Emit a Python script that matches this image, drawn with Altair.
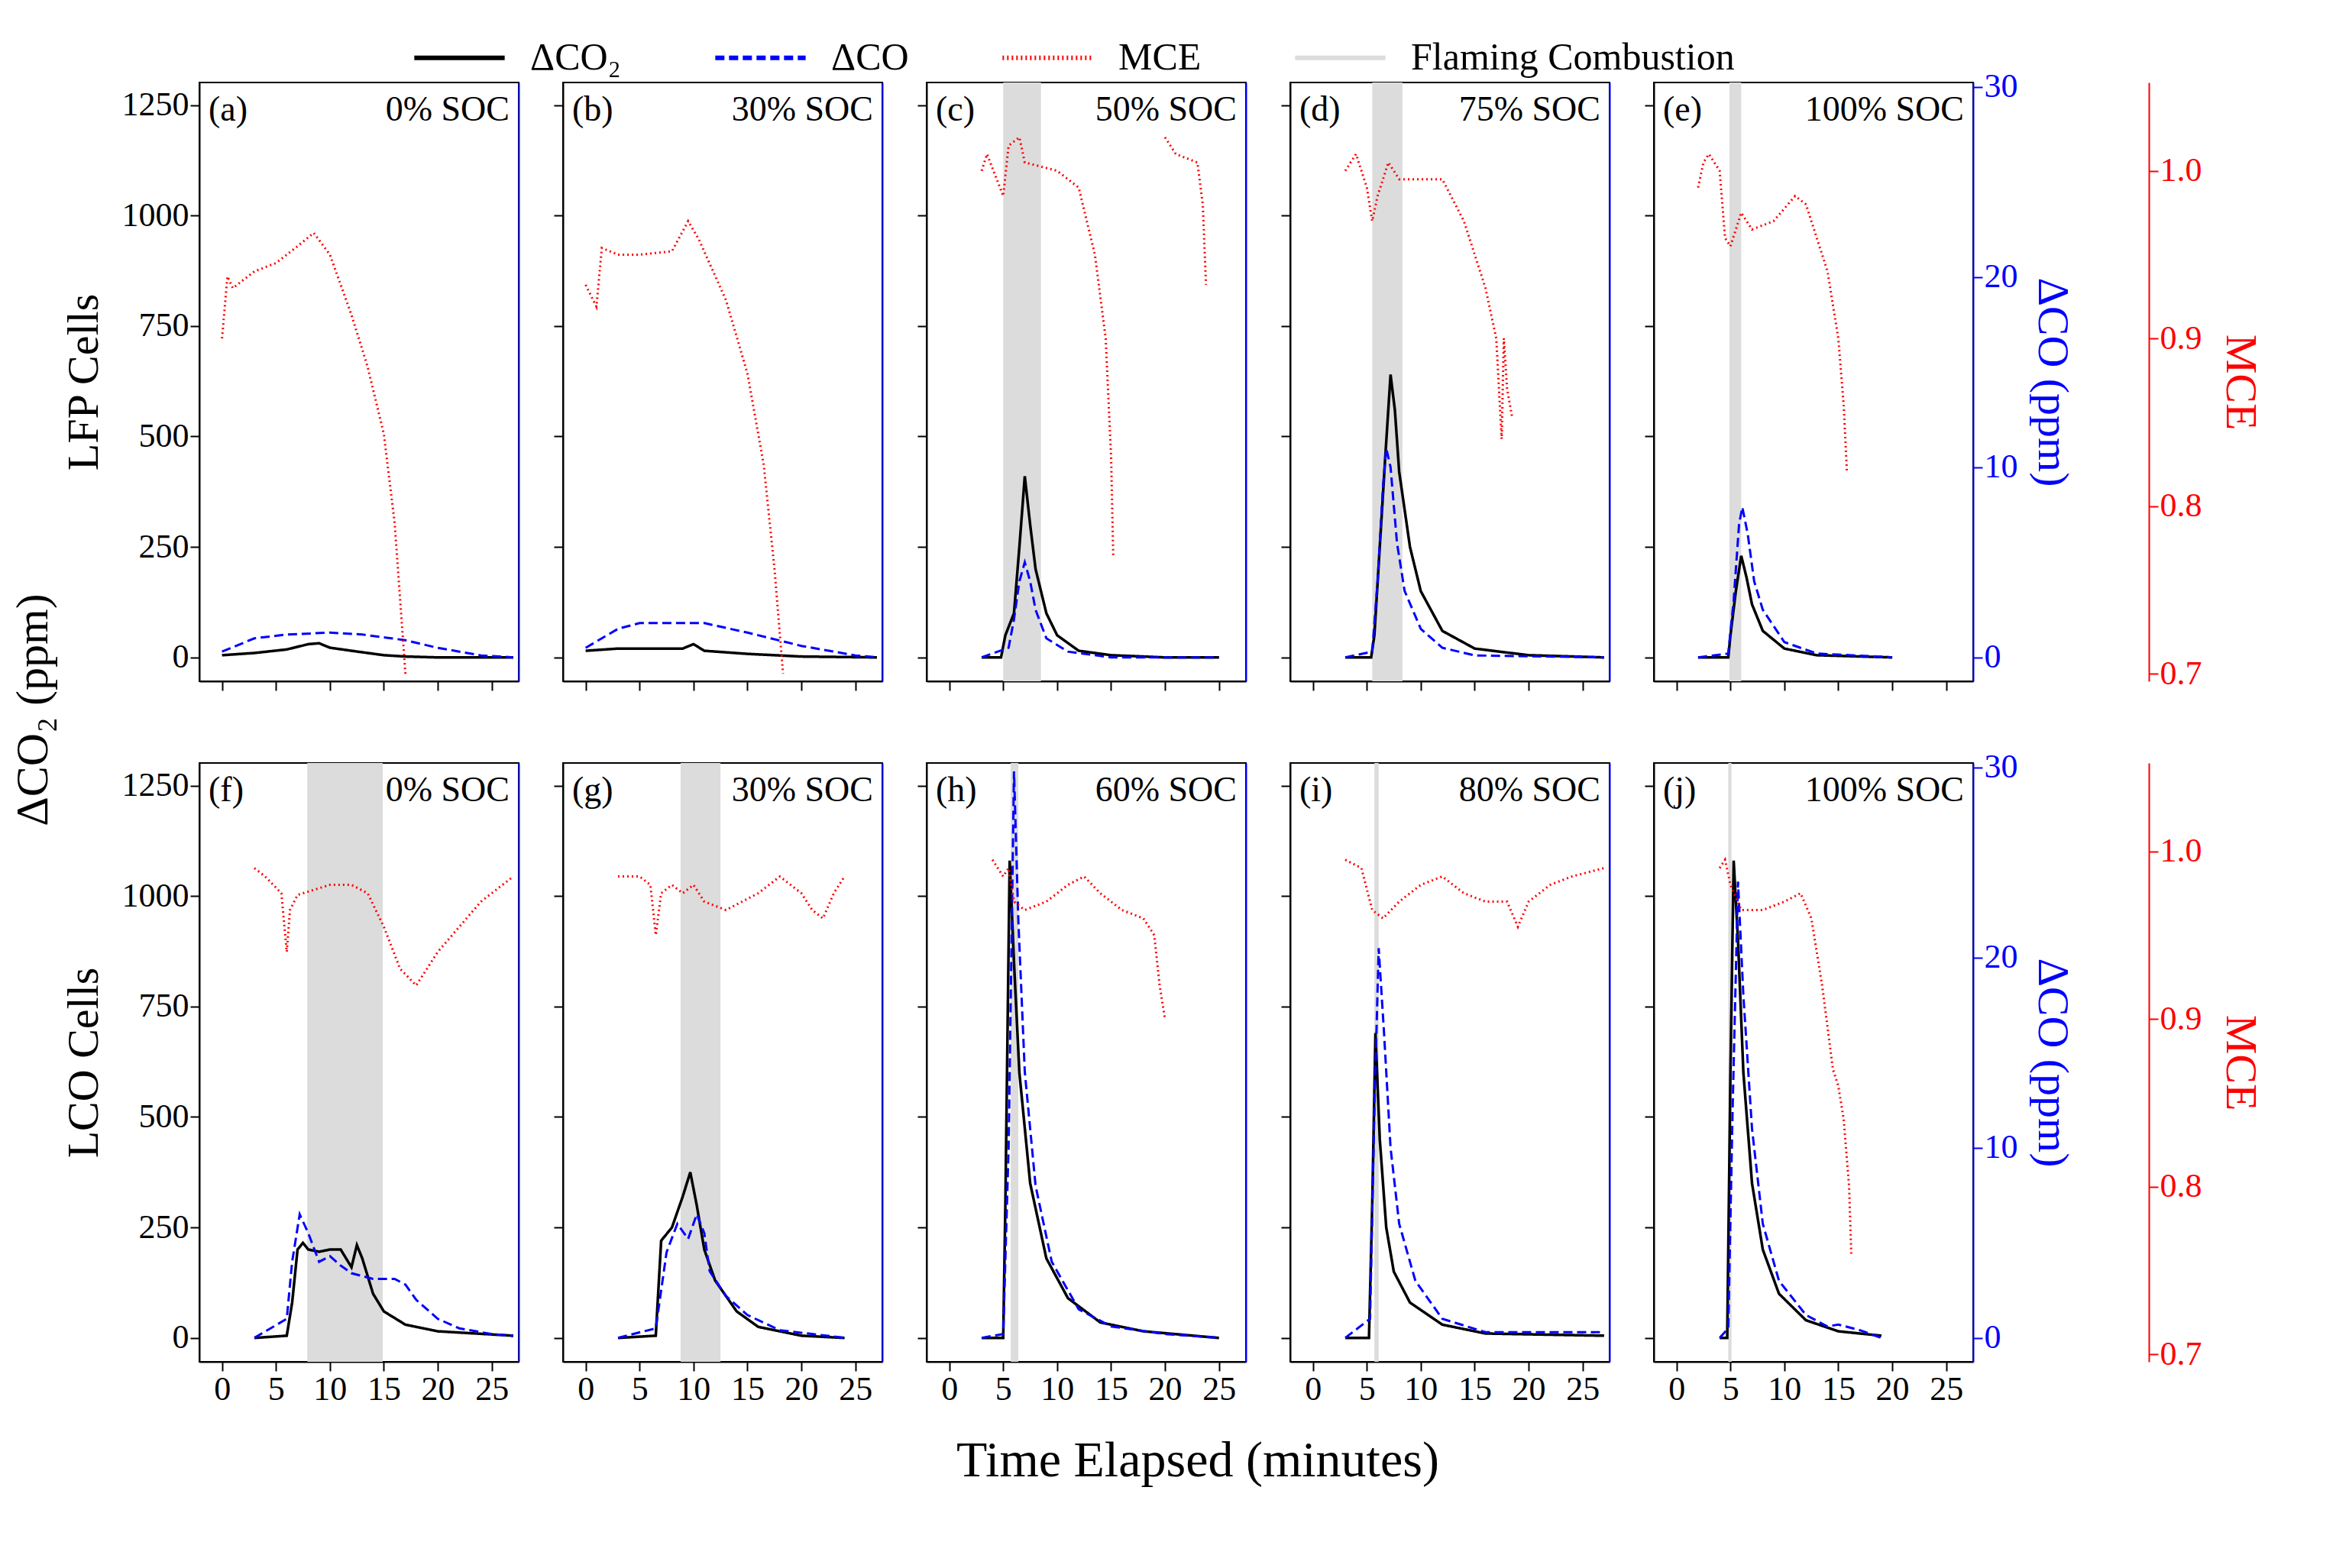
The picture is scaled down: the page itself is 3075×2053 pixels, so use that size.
import pandas as pd
import altair as alt

FONT = "Liberation Serif"
W, H = 418, 784

# (time in minutes, value) pairs
# ---- LFP cells ----
a_co2 = [(0, 5), (3, 10), (6, 18), (8, 30), (9, 32), (10, 22), (12, 15), (15, 5), (17, 2), (20, 0), (27, 0)]
a_co = [(0, 0.3), (3, 1.0), (6, 1.2), (10, 1.3), (13, 1.2), (17, 0.9), (20, 0.5), (24, 0.1), (27, 0)]
a_mce = [(0, 0.90), (0.5, 0.937), (1, 0.93), (2, 0.935), (3, 0.94), (5, 0.945), (7, 0.955), (8.5, 0.963),
         (10, 0.95), (12, 0.914), (13.5, 0.883), (15, 0.843), (16, 0.79), (16.5, 0.745), (17, 0.70)]
b_co2 = [(0, 15), (3, 20), (6, 20), (9, 20), (10, 30), (11, 15), (15, 8), (20, 2), (27, 0)]
b_co = [(0, 0.5), (3, 1.5), (5, 1.8), (9, 1.8), (11, 1.8), (15, 1.3), (20, 0.6), (25, 0.1), (27, 0)]
b_mce = [(0, 0.932), (1, 0.919), (1.5, 0.954), (3, 0.95), (5, 0.95), (8, 0.952), (9.5, 0.97), (10.5, 0.959),
         (13, 0.923), (15, 0.879), (16.5, 0.825), (17.5, 0.763), (18.3, 0.70)]
c_co2 = [(3, 0), (4.8, 0), (5.2, 50), (6, 100), (6.5, 250), (7, 410), (7.5, 300), (8, 200), (9, 100),
         (10, 50), (12, 15), (15, 5), (20, 0), (25, 0)]
c_co = [(3, 0), (5.5, 0.5), (6, 2), (6.5, 4), (7, 5), (7.5, 4), (8, 2.5), (9, 1), (11, 0.3), (15, 0), (25, 0)]
c_mce = [(3, 1.0), (3.5, 1.01), (5, 0.985), (5.5, 1.015), (6.5, 1.02), (7, 1.005), (10, 1.0), (12, 0.99),
         (13.5, 0.95), (14.5, 0.9), (15, 0.83), (15.2, 0.77)]
c_mce2 = [(20, 1.02), (21, 1.01), (23, 1.005), (23.5, 0.98), (23.8, 0.932)]
d_co2 = [(3, 0), (5.4, 0), (5.7, 50), (6.2, 250), (6.7, 450), (7.2, 640), (7.6, 560), (8, 420), (9, 250),
         (10, 150), (12, 60), (15, 20), (20, 5), (27, 0)]
d_co = [(3, 0), (5.5, 0.3), (6, 4), (6.5, 9), (6.8, 11), (7.2, 10), (7.8, 6), (8.5, 3.5), (10, 1.5),
        (12, 0.5), (15, 0.1), (27, 0)]
d_mce = [(3, 1.0), (4, 1.01), (5, 0.99), (5.5, 0.97), (6, 0.985), (7, 1.005), (8, 0.995), (12, 0.995),
         (14, 0.97), (16, 0.93), (17, 0.9), (17.5, 0.84), (17.7, 0.9), (18, 0.87), (18.5, 0.852)]
e_co2 = [(2, 0), (4.8, 0), (5, 50), (5.5, 150), (6, 230), (6.5, 180), (7, 120), (8, 60), (10, 20), (13, 5), (20, 0)]
e_co = [(2, 0), (4.8, 0.2), (5.3, 3), (5.8, 7), (6.1, 7.9), (6.6, 6.5), (7.2, 4), (8, 2.5), (10, 0.8),
        (13, 0.2), (20, 0)]
e_mce = [(2, 0.99), (2.5, 1.005), (3, 1.01), (4, 1.0), (4.5, 0.96), (5, 0.955), (5.5, 0.965), (6, 0.975),
         (7, 0.965), (9, 0.97), (11, 0.985), (12, 0.98), (13, 0.96), (14, 0.94), (15, 0.9), (15.5, 0.86), (15.8, 0.82)]
# ---- LCO cells ----
f_co2 = [(3, 0), (6, 5), (6.5, 80), (7, 200), (7.5, 215), (8, 200), (9, 195), (10, 200), (11, 200), (12, 160),
         (12.5, 210), (13, 180), (14, 100), (15, 60), (17, 30), (20, 15), (27, 5)]
f_co = [(3, 0), (6, 1), (6.5, 4), (7.2, 6.5), (8, 5.5), (9, 4), (10, 4.3), (11, 3.8), (12, 3.4), (14, 3.1),
        (16, 3.1), (17, 2.8), (18, 2), (20, 1), (22, 0.5), (25, 0.2), (27, 0.1)]
f_mce = [(3, 0.99), (4, 0.985), (5.5, 0.975), (6, 0.94), (6.3, 0.965), (7, 0.974), (10, 0.98), (12, 0.98),
         (13.5, 0.975), (15, 0.955), (16.5, 0.93), (18, 0.92), (20, 0.94), (22, 0.955), (24, 0.97), (27, 0.985)]
g_co2 = [(3, 0), (6.5, 5), (7, 220), (8, 250), (9, 320), (9.7, 375), (10.3, 300), (11, 200), (12, 130),
         (14, 60), (16, 25), (20, 5), (24, 0)]
g_co = [(3, 0), (6.5, 0.5), (7.5, 4.5), (8.5, 6), (9.5, 5.2), (10.3, 6.5), (11, 5.5), (11.5, 3.5), (13, 2.2),
        (15, 1.2), (18, 0.4), (24, 0)]
g_mce = [(3, 0.985), (5, 0.985), (6, 0.98), (6.5, 0.95), (7, 0.975), (8, 0.98), (9, 0.975), (10, 0.98),
         (11, 0.97), (13, 0.965), (16, 0.975), (18, 0.985), (20, 0.975), (21, 0.965), (22, 0.96), (23, 0.975), (24, 0.985)]
h_co2 = [(3, 0), (5, 0), (5.2, 300), (5.6, 1080), (6, 850), (6.5, 600), (7.5, 350), (9, 180), (11, 90),
         (14, 35), (18, 15), (25, 0)]
h_co = [(3, 0), (5, 0.2), (5.5, 10), (6.0, 29.8), (6.4, 22), (7, 14), (8, 8), (9.5, 4), (12, 1.5), (15, 0.6),
        (20, 0.2), (25, 0)]
h_mce = [(4, 0.995), (5, 0.985), (5.5, 0.99), (6, 0.97), (7, 0.965), (9, 0.97), (11, 0.98), (12.5, 0.985),
         (14, 0.975), (16, 0.965), (18, 0.96), (19, 0.95), (19.5, 0.92), (20, 0.9)]
i_co2 = [(3, 0), (5.2, 0), (5.5, 300), (5.8, 690), (6.2, 450), (6.8, 250), (7.5, 150), (9, 80), (12, 30),
         (16, 10), (27, 5)]
i_co = [(3, 0), (5.3, 1), (5.7, 12), (6.1, 20.5), (6.6, 16), (7.2, 10), (8, 6), (9.5, 3), (12, 1), (16, 0.3), (27, 0.3)]
i_mce = [(3, 0.995), (4.5, 0.99), (5.5, 0.965), (6.5, 0.96), (8, 0.97), (10, 0.98), (12, 0.985), (14, 0.975),
         (16, 0.97), (18, 0.97), (19, 0.955), (20, 0.97), (22, 0.98), (24, 0.985), (27, 0.99)]
j_co2 = [(4, 0), (4.7, 0), (5, 600), (5.3, 1080), (5.7, 900), (6.2, 600), (7, 350), (8, 200), (9.5, 100),
         (12, 40), (15, 15), (19, 5)]
j_co = [(4, 0), (4.8, 0.5), (5.2, 12), (5.7, 24), (6.2, 18), (7, 11), (8, 6), (9.5, 3), (12, 1.2), (14, 0.6),
        (15, 0.7), (17, 0.4), (19, 0)]
j_mce = [(4, 0.99), (4.5, 0.995), (5, 0.98), (6, 0.965), (8, 0.965), (10, 0.97), (11.5, 0.975), (12.5, 0.96),
         (13.5, 0.92), (14.5, 0.87), (15, 0.86), (15.5, 0.84), (16, 0.8), (16.2, 0.76)]

# flaming combustion windows (start, end) in minutes
shades = {'c': (5.0, 8.5), 'd': (5.5, 8.3), 'e': (4.9, 6.0),
          'f': (7.9, 14.9), 'g': (8.8, 12.5), 'h': (5.7, 6.4), 'i': (5.7, 6.1), 'j': (4.8, 5.1)}

labels = ['a', 'b', 'c', 'd', 'e', 'f', 'g', 'h', 'i', 'j']
socs = ['0% SOC', '30% SOC', '50% SOC', '75% SOC', '100% SOC',
        '0% SOC', '30% SOC', '60% SOC', '80% SOC', '100% SOC']
co2_data = [a_co2, b_co2, c_co2, d_co2, e_co2, f_co2, g_co2, h_co2, i_co2, j_co2]
co_data = [a_co, b_co, c_co, d_co, e_co, f_co, g_co, h_co, i_co, j_co]
mce_data = [[a_mce], [b_mce], [c_mce, c_mce2], [d_mce], [e_mce], [f_mce], [g_mce], [h_mce], [i_mce], [j_mce]]

SERIES = ['ΔCO₂', 'ΔCO', 'MCE', 'Flaming Combustion']
COLORS = ['black', '#0000ff', '#ff0000', '#dcdcdc']
DASHES = [[1, 0], [12, 6], [2, 4], [1, 0]]

color = alt.Color('series:N', scale=alt.Scale(domain=SERIES, range=COLORS), legend=alt.Legend(title=None))
dash = alt.StrokeDash('series:N', scale=alt.Scale(domain=SERIES, range=DASHES), legend=alt.Legend(title=None))


def to_df(pts, name, seg=0):
    return pd.DataFrame({'t': [p[0] for p in pts], 'v': [p[1] for p in pts], 'series': name, 'seg': seg})


def xenc(field, row):
    return alt.X(field, scale=alt.Scale(domain=[-2.1, 27.5], nice=False, zero=False),
                 axis=alt.Axis(values=[0, 5, 10, 15, 20, 25], labels=(row == 1), title=None))


def panel(k):
    row, col = divmod(k, 5)
    lab = labels[k]
    layers = []
    if lab in shades:
        s, e = shades[lab]
        sdf = pd.DataFrame({'s': [s], 'e': [e], 'series': ['Flaming Combustion']})
        layers.append(alt.Chart(sdf).mark_rect().encode(x=xenc('s:Q', row), x2='e:Q', color=color))

    co2_axis = alt.Axis(values=[0, 250, 500, 750, 1000, 1250], format='d', labels=(col == 0),
                        title=(['LFP Cells', 'LCO Cells'][row] if col == 0 else None), titlePadding=20)
    layers.append(alt.Chart(to_df(co2_data[k], 'ΔCO₂')).mark_line(strokeWidth=3.5).encode(
        x=xenc('t:Q', row),
        y=alt.Y('v:Q', scale=alt.Scale(domain=[-54, 1301], nice=False, zero=False), axis=co2_axis),
        color=color, strokeDash=dash))

    if col == 4:
        co_axis = alt.Axis(orient='right', values=[0, 10, 20, 30], title='ΔCO (ppm)', titleColor='#0000ff',
                           labelColor='#0000ff', tickColor='#0000ff', domainColor='#0000ff', titlePadding=15)
    else:
        co_axis = alt.Axis(orient='right', labels=False, ticks=False, domainColor='#0000ff', title=None)
    layers.append(alt.Chart(to_df(co_data[k], 'ΔCO')).mark_line(strokeWidth=3).encode(
        x=xenc('t:Q', row),
        y=alt.Y('v:Q', scale=alt.Scale(domain=[-1.26, 30.24], nice=False, zero=False), axis=co_axis),
        color=color, strokeDash=dash))

    mdf = pd.concat([to_df(seg, 'MCE', n) for n, seg in enumerate(mce_data[k])])
    if col == 4:
        mce_axis = alt.Axis(orient='right', offset=230, values=[0.7, 0.8, 0.9, 1.0], format='.1f', title='MCE',
                            titleColor='#ff0000', labelColor='#ff0000', tickColor='#ff0000',
                            domainColor='#ff0000', titlePadding=20)
        my = alt.Y('v:Q', scale=alt.Scale(domain=[0.6955, 1.0527], nice=False, zero=False), axis=mce_axis)
    else:
        my = alt.Y('v:Q', scale=alt.Scale(domain=[0.6955, 1.0527], nice=False, zero=False), axis=None)
    layers.append(alt.Chart(mdf).mark_line(strokeWidth=3).encode(
        x=xenc('t:Q', row), y=my, color=color, strokeDash=dash, detail='seg:N'))

    layers.append(alt.Chart(pd.DataFrame({'t': ['(' + lab + ')']})).mark_text(
        align='left', baseline='top', fontSize=46, font=FONT).encode(
        x=alt.value(12), y=alt.value(14), text='t:N'))
    layers.append(alt.Chart(pd.DataFrame({'t': [socs[k]]})).mark_text(
        align='right', baseline='top', fontSize=46, font=FONT).encode(
        x=alt.value(W - 12), y=alt.value(14), text='t:N'))

    return alt.layer(*layers).resolve_scale(y='independent').properties(width=W, height=H)


top = alt.hconcat(*[panel(k) for k in range(5)], spacing=43)
bottom = alt.hconcat(*[panel(k) for k in range(5, 10)], spacing=43)
grid = alt.vconcat(top, bottom, spacing=75)

xtitle = alt.Chart(pd.DataFrame({'t': ['Time Elapsed (minutes)']})).mark_text(
    fontSize=66, font=FONT, baseline='middle').encode(
    x=alt.value(1307), text='t:N').properties(
    width=2600, height=70, view=alt.ViewBackground(stroke='transparent'))

ytitle = alt.Chart(pd.DataFrame({'t': ['ΔCO₂ (ppm)']})).mark_text(
    angle=270, fontSize=60, font=FONT).encode(text='t:N').properties(
    width=50, height=2 * H + 75, view=alt.ViewBackground(stroke='transparent'))

chart = alt.hconcat(ytitle, alt.vconcat(grid, xtitle, spacing=35), spacing=5).configure_view(
    stroke='black', strokeWidth=2
).configure_axis(
    labelFont=FONT, titleFont=FONT, labelFontSize=44, titleFontSize=58, titleFontWeight='normal',
    grid=False, tickSize=12, tickWidth=2, domainWidth=2, domainColor='black', tickColor='black',
    labelColor='black', titleColor='black'
).configure_legend(
    orient='none', legendX=520, legendY=-95, direction='horizontal', labelFont=FONT, labelFontSize=50,
    symbolType='stroke', symbolStrokeWidth=6, symbolSize=14000, columnPadding=110, labelLimit=0,
    labelOffset=30
)

chart.save("out.html", embed_options={"renderer": "svg", "actions": False})
